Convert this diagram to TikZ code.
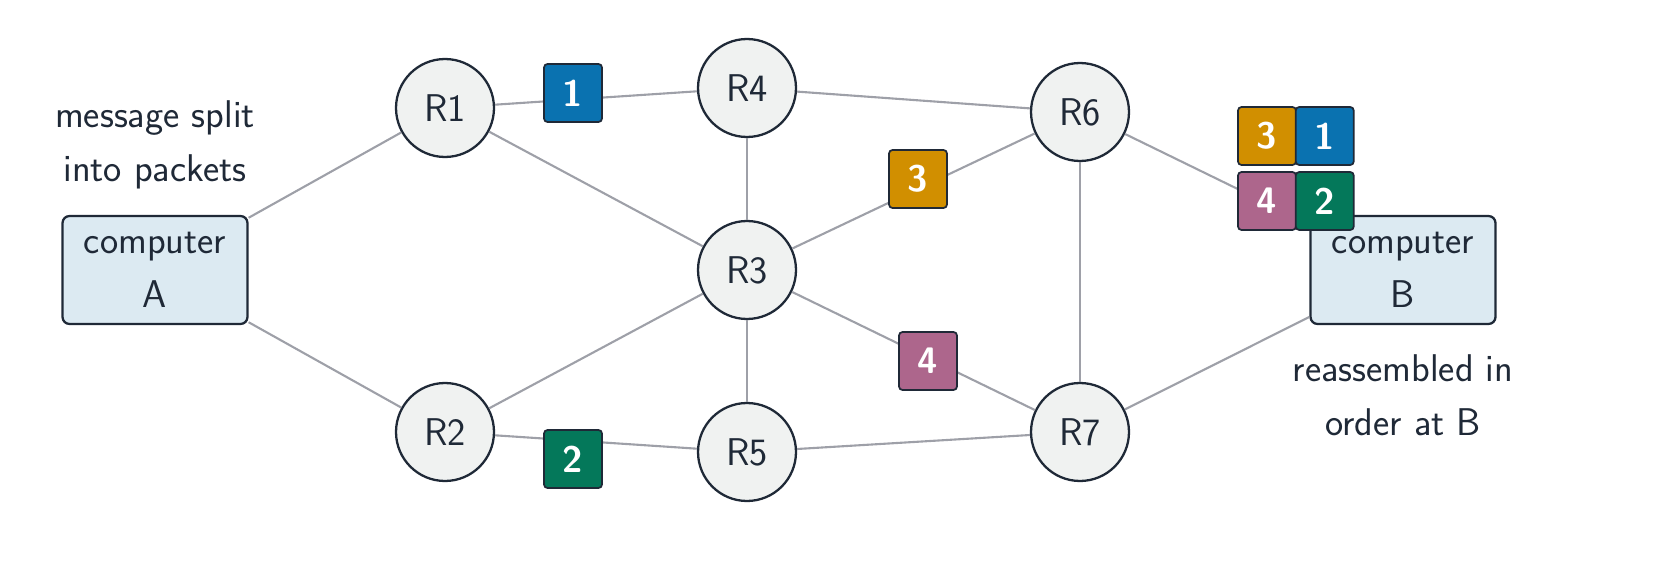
\documentclass[tikz,border=0pt]{standalone}
\usepackage{tikz}
\usetikzlibrary{positioning}
\definecolor{ink}{HTML}{1F2937}
\definecolor{routerfill}{HTML}{F0F2F1}
\definecolor{hostfill}{HTML}{DCEAF2}
\definecolor{wire}{HTML}{9EA0A8}
\definecolor{pblue}{HTML}{0A72B0}
\definecolor{pgreen}{HTML}{04785A}
\definecolor{porange}{HTML}{D18F00}
\definecolor{ppink}{HTML}{AD668C}
\tikzset{
  router/.style={circle, draw=ink, line width=1.3pt, fill=routerfill, minimum size=1.96cm, inner sep=0pt},
  host/.style={rectangle, rounded corners=4pt, draw=ink, line width=1.3pt, fill=hostfill,
    minimum width=3.7cm, minimum height=2.16cm, align=center},
  packet/.style={rectangle, rounded corners=2pt, draw=ink, line width=1pt, fill=#1,
    minimum size=1.16cm, inner sep=0pt, text=white, font=\sffamily\bfseries\fontsize{21}{24}\selectfont},
  link/.style={draw=wire, line width=1.2pt},
  note/.style={align=center, text=ink}
}
\begin{document}
\begin{tikzpicture}[x=0.02cm, y=-0.02cm, font=\sffamily\fontsize{22}{31}\selectfont, text=ink]
  \useasboundingbox (0,0) rectangle (1653,571);
  \node[host] (A) at (155,270) {computer\\A};
  \node[host] (B) at (1403,270) {computer\\B};
  \node[router] (R1) at (445,108) {R1};
  \node[router] (R2) at (445,432) {R2};
  \node[router] (R3) at (747,270) {R3};
  \node[router] (R4) at (747,88) {R4};
  \node[router] (R5) at (747,452) {R5};
  \node[router] (R6) at (1080,112) {R6};
  \node[router] (R7) at (1080,432) {R7};

  \node[note] (msg) at (155,145) {message split\\into packets};
  \node[note] (asm) at (1403,395) {reassembled in\\order at B};

  \draw[link] (A) -- (R1);
  \draw[link] (A) -- (R2);
  \draw[link] (R1) -- (R4);
  \draw[link] (R1) -- (R3);
  \draw[link] (R4) -- (R3);
  \draw[link] (R4) -- (R6);
  \draw[link] (R3) -- (R6);
  \draw[link] (R3) -- (R2);
  \draw[link] (R3) -- (R5);
  \draw[link] (R3) -- (R7);
  \draw[link] (R2) -- (R5);
  \draw[link] (R5) -- (R7);
  \draw[link] (R6) -- (R7);
  \draw[link] (R7) -- (B);
  \coordinate (Bin) at (1250,195);
  \draw[link] (R6) -- (Bin);

  % packets on the way
  \node[packet=pblue] (p1) at (573,93) {1};
  \node[packet=pgreen] (p2) at (573,459) {2};
  \node[packet=porange] (p3) at (918,179) {3};
  \node[packet=ppink] (p4) at (928,361) {4};

  % packets at B
  \node[packet=porange] (b3) at (1267,136) {3};
  \node[packet=pblue, right=-0.04cm of b3] (b1) {1};
  \node[packet=ppink] (b4) at (1267,201) {4};
  \node[packet=pgreen, right=-0.04cm of b4] (b2) {2};
\end{tikzpicture}
\end{document}
